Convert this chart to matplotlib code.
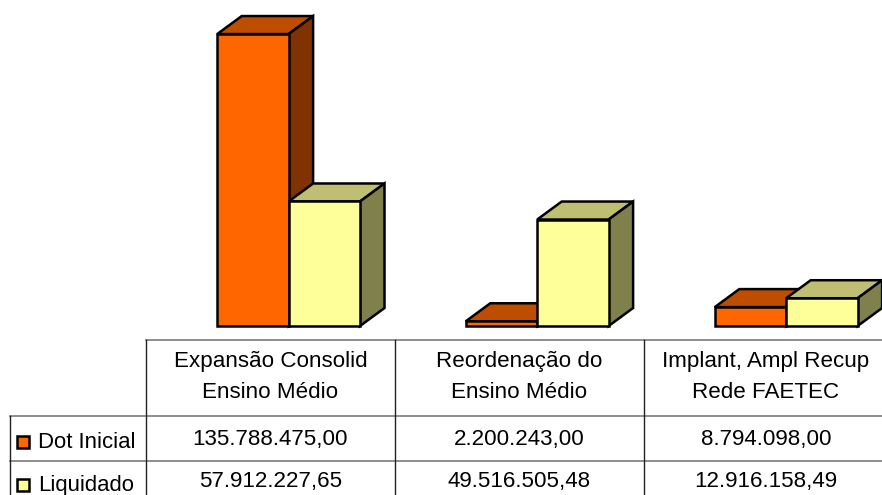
import matplotlib
matplotlib.use("Agg")
import matplotlib.pyplot as plt
from matplotlib.patches import Polygon, Rectangle

plt.rcParams['font.family'] = ['Liberation Sans', 'DejaVu Sans']

categories = ["Expansão Consolid\nEnsino Médio", "Reordenação do\nEnsino Médio", "Implant, Ampl Recup\nRede FAETEC"]
series_names = ["Dot Inicial", "Liquidado"]
dot_inicial = [135788475.00, 2200243.00, 8794098.00]
liquidado = [57912227.65, 49516505.48, 12916158.49]
dot_labels = ["135.788.475,00", "2.200.243,00", "8.794.098,00"]
liq_labels = ["57.912.227,65", "49.516.505,48", "12.916.158,49"]
front_colors = ["#FF6600", "#FFFF99"]
top_colors = ["#BF4D00", "#BFBF73"]
side_colors = ["#803300", "#80804D"]

W, H = 882, 495
BASE_PX = 326
PX_PER_UNIT = 2.15e-6
fig = plt.figure(figsize=(W / 100, H / 100), dpi=100)
ax = fig.add_axes([0, 0, 1, 1])
ax.set_xlim(0, W)
ax.set_ylim(-(H - BASE_PX) / PX_PER_UNIT, BASE_PX / PX_PER_UNIT)
ax.axis("off")

centers = [288.6, 537.2, 786.2]
BAR_W = 71.4
DX, DY = 24.5, 18 / PX_PER_UNIT
EDGE = dict(edgecolor="black", linewidth=1.8, joinstyle="miter")

for s, values in enumerate([dot_inicial, liquidado]):
    for c, v in zip(centers, values):
        x0 = c - BAR_W if s == 0 else c
        x1 = x0 + BAR_W
        ax.add_patch(Polygon([(x0, v), (x1, v), (x1 + DX, v + DY), (x0 + DX, v + DY)],
                             facecolor=top_colors[s], zorder=2 + s, **EDGE))
        ax.add_patch(Polygon([(x1, 0), (x1 + DX, DY), (x1 + DX, v + DY), (x1, v)],
                             facecolor=side_colors[s], zorder=2 + s, **EDGE))
        ax.bar(x0, v, width=BAR_W, align="edge", color=front_colors[s], zorder=2.5 + s, **EDGE)

# Table, in pixel coordinates of the figure
tb = fig.add_axes([0, 0, 1, 1])
tb.set_xlim(0, W)
tb.set_ylim(H, 0)
tb.axis("off")
tb.patch.set_alpha(0)

GRAY = "#7a7a7a"
DARK = "#222222"
tb.plot([146, W], [339.5, 339.5], color=GRAY, lw=1.2)
tb.plot([10, W], [416, 416], color=GRAY, lw=1.2)
tb.plot([10, W], [461, 461], color=GRAY, lw=1.2)
for x, y0 in [(10, 416), (146, 339.5), (395, 339.5), (643.5, 339.5)]:
    tb.plot([x, x], [y0, H], color=DARK, lw=1.0)

FS = 16.1
TC = "#000000"
col_centers = [270.5, 519.5, 766]
for cx, cat, d, l in zip(col_centers, categories, dot_labels, liq_labels):
    a, b = cat.split("\n")
    tb.text(cx, 361, a, ha="center", va="center", fontsize=FS, color=TC)
    tb.text(cx, 393, b, ha="center", va="center", fontsize=FS, color=TC)
    tb.text(cx, 439.5, d, ha="center", va="center", fontsize=FS, color=TC)
    tb.text(cx, 481.5, l, ha="center", va="center", fontsize=FS, color=TC)

for name, y, col in zip(series_names, [441.5, 484.5], front_colors):
    tb.add_patch(Rectangle((16.5, y - 6), 12, 12, facecolor=col, edgecolor="black", linewidth=1.8))
    tb.text(38, y + 0.5, name, ha="left", va="center", fontsize=15.9, color=TC)

fig.savefig("out.png", dpi=100)
